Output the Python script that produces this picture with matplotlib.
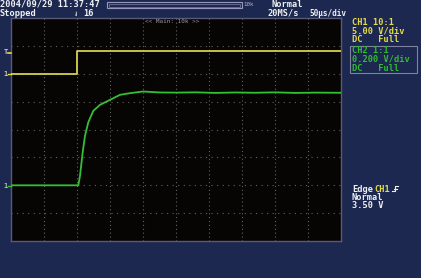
import matplotlib
matplotlib.use("Agg")
import matplotlib.pyplot as plt
from matplotlib.patches import Rectangle
from matplotlib.lines import Line2D

W, H = 421, 278
BG = '#1c2850'
YEL = '#d2d24e'
GRN = '#34c034'
TXT_Y = '#e6dc46'
TXT_G = '#30bc30'
WHITE = '#f0f0f0'

# ---- data (time in microseconds, voltage in volts) ----
ch1_t = [0, 100, 100, 500]
ch1_v = [0.0, 0.0, 4.1, 4.1]

ch2_t = [0, 102, 104.5, 108.6, 112.1, 117.1, 124.7, 134.8, 150, 165, 180, 200,
         226, 251, 280, 310, 340, 370, 400, 430, 460, 500]
ch2_v = [0.0, 0.0, 0.067, 0.237, 0.355, 0.453, 0.535, 0.578, 0.614, 0.650,
         0.662, 0.674, 0.667, 0.666, 0.668, 0.664, 0.667, 0.665, 0.668, 0.664,
         0.666, 0.665]

ch1_scale, ch1_offset = 5.0, 2.0     # V/div, div
ch2_scale, ch2_offset = 0.2, -2.0

time_div = 50.0
n_xdiv, n_ydiv = 10, 8

fig = plt.figure(figsize=(W / 100, H / 100), dpi=100, facecolor=BG)

def fx(px):
    return px / W

def fy(py):
    return 1 - py / H

# screen
L, R, T, B = 11, 341, 18.3, 241
ax = fig.add_axes([fx(L), fy(B), fx(R) - fx(L), fy(T) - fy(B)])
ax.set_facecolor('#070404')
ax.set_xlim(0, n_xdiv * time_div)
ax.set_ylim(-n_ydiv / 2, n_ydiv / 2)
ax.set_xticks([])
ax.set_yticks([])
for s in ax.spines.values():
    s.set_color('#5a5a78')
    s.set_linewidth(1.0)

for i in range(1, n_xdiv):
    ax.axvline(i * time_div, color='#626262', lw=0.8, ls=(0, (1, 2.5)), zorder=1)
for j in range(-n_ydiv // 2 + 1, n_ydiv // 2):
    ax.axhline(j, color='#626262', lw=0.8, ls=(0, (1, 4)), zorder=1)

ax.plot(ch1_t, [v / ch1_scale + ch1_offset for v in ch1_v], color=YEL, lw=1.3, zorder=3)
ax.plot(ch2_t, [v / ch2_scale + ch2_offset for v in ch2_v], color=GRN, lw=1.3, zorder=3)

mono = 'DejaVu Sans Mono'
fs = 6.2

def txt(x, y, s, color=WHITE, size=fs, weight='bold', **kw):
    fig.text(fx(x), fy(y), s, color=color, fontsize=size, family=mono,
             va='center', ha='left', fontweight=weight, **kw)

# top status
txt(0, 4, '2004/09/29 11:37:47')
txt(0, 13.5, 'Stopped')
txt(83, 13.5, '16')
txt(73, 13, '⇃', size=5.5)
txt(272, 4.5, 'Normal')
txt(267, 13.5, '20MS/s')
txt(309, 13.5, '50\u03bcs/div', size=5.6)
txt(243, 5, '10k', color='#b0b0c8', size=4.2, weight='normal')

# record bar
fig.patches.append(Rectangle((fx(107), fy(8)), fx(242) - fx(107), fy(2) - fy(8),
                             transform=fig.transFigure, fill=False,
                             edgecolor='#9898b8', lw=0.8))
fig.patches.append(Rectangle((fx(109), fy(6.5)), fx(240) - fx(109), fy(3.5) - fy(6.5),
                             transform=fig.transFigure, fill=False,
                             edgecolor='#7070a0', lw=0.6))

# inside screen label
txt(145, 21.5, '<< Main: 10k >>', color='#9a9a9a', size=4.3, weight='normal')

# right panel
txt(352, 22.5, 'CH1 10:1', color=TXT_Y)
txt(352, 31, '5.00 V/div', color=TXT_Y)
txt(352, 39.5, 'DC   Full', color=TXT_Y)
fig.patches.append(Rectangle((fx(350), fy(73)), fx(417) - fx(350), fy(46) - fy(73),
                             transform=fig.transFigure, fill=False,
                             edgecolor='#8080a0', lw=0.8))
txt(352, 50.5, 'CH2 1:1', color=TXT_G)
txt(352, 59.5, '0.200 V/div', color=TXT_G)
txt(352, 68.5, 'DC   Full', color=TXT_G)

txt(352, 189, 'Edge', color=WHITE)
txt(374, 189, 'CH1', color=TXT_Y)
txt(352, 197, 'Normal')
txt(352, 205, '3.50 V')
# rising-edge symbol
ex = [392, 395, 395, 398]
ey = [191, 191, 186, 186]
fig.add_artist(Line2D([fx(v) for v in ex], [fy(v) for v in ey], color=WHITE, lw=0.8))
fig.add_artist(Line2D([fx(393.5), fx(396.5)], [fy(188.5), fy(188.5)], color=WHITE, lw=0.8))

# left markers
txt(3.5, 52, 'T', color='#c8c8c8', size=5)
fig.add_artist(Line2D([fx(8), fx(11)], [fy(53), fy(53)], color=TXT_Y, lw=1.2))
txt(3.5, 74, '1', color='#c8c8a0', size=5)
fig.add_artist(Line2D([fx(8), fx(11)], [fy(74), fy(74)], color=TXT_Y, lw=1.0))
txt(3.5, 186, '1', color='#a0c8a0', size=5)
fig.add_artist(Line2D([fx(8), fx(11)], [fy(186), fy(186)], color=GRN, lw=1.0))

fig.savefig('out.png', dpi=100, facecolor=BG)
